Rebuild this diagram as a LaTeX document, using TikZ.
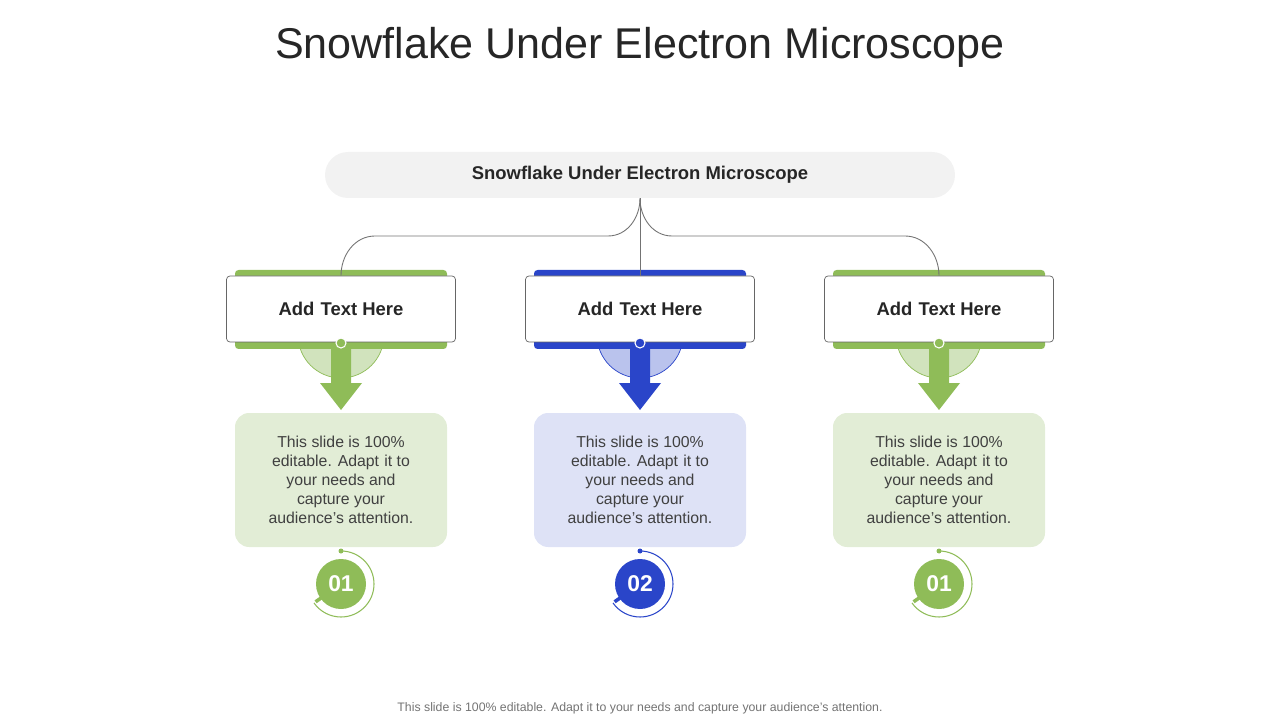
\documentclass[tikz,border=0pt]{standalone}
\usepackage{fontspec}
\setmainfont{Liberation Sans}
\usetikzlibrary{positioning,calc}
\definecolor{cgreen}{HTML}{8FBC58}
\definecolor{lgreen}{HTML}{E2EDD6}
\definecolor{cblue}{HTML}{2A45C9}
\definecolor{lblue}{HTML}{DEE2F6}
\definecolor{pill}{HTML}{F2F2F2}
\definecolor{ink}{HTML}{262626}
\newcommand{\bodytxt}{This slide is 100\%\\ editable. Adapt\,\,it to\\ your needs and\\ capture your\\ audience's attention.}
\begin{document}
\begin{tikzpicture}
[x=0.2mm,y=-0.2mm,
    title/.style={font=\fontsize{24.5}{28}\selectfont,text=ink},
    header/.style={fill=pill,rounded corners=23*0.2mm,minimum width=630*0.2mm,minimum height=46*0.2mm,font=\bfseries\fontsize{10.5}{12}\selectfont,text=ink},
    headbox/.style={draw=black!60,fill=white,rounded corners=2pt,minimum width=229*0.2mm,minimum height=66*0.2mm,font=\bfseries\fontsize{10.5}{12}\selectfont,text=ink},
    textbox/.style={rounded corners=8pt,minimum width=212*0.2mm,minimum height=134*0.2mm,align=center,font=\fontsize{9}{10.8}\selectfont,text=black!75},
    numdisc/.style={circle,minimum size=50*0.2mm,inner sep=0pt,font=\bfseries\fontsize{13}{15}\selectfont,text=white},
    link/.style={black!55,line width=.5pt}]
\useasboundingbox (0,0) rectangle (1280,720);
%%%%%%%%%%
%% title
\node[title] (ttl) at (640,47) {Snowflake Under Electron Microscope};
\node[header] (top) at (640,175) {Snowflake Under Electron Microscope};
%%
\foreach \x/\c/\l/\n/\nm in {341/cgreen/lgreen/01/a,640/cblue/lblue/02/b,939/cgreen/lgreen/01/c}{
  \fill[\c,rounded corners=2pt] (\x-106,270) rectangle (\x+106,349);
  \draw[\c,fill=\l!80!\c] (\x-43,335) arc[start angle=180,end angle=0,radius=43] -- cycle;
  \fill[\c] (\x-43,335) rectangle (\x+43,349);
  \fill[\c] (\x-10,342) -- (\x+10,342) -- (\x+10,383) -- (\x+21,383) -- (\x,410)
    -- (\x-21,383) -- (\x-10,383) -- cycle;
  \node[headbox] (h\nm) at (\x,309) {Add\,\,Text Here};
  \draw[white,fill=\c,line width=.6pt] (\x,343) circle[radius=5];
  \node[textbox,fill=\l] (t\nm) at (\x,480) {\bodytxt};
  \node[numdisc,fill=\c] (n\nm) at (\x,584) {\n};
  \draw[\c,line width=.6pt] (n\nm.center) ++(270:33) arc[start angle=270,end angle=505,radius=33];
  \fill[\c] (n\nm.center) ++(270:33) circle[radius=2.5];
  \draw[\c,line width=2pt] (n\nm.center) ++(145:22) -- ++(145:9);
}
%%
\draw[link] (top.south) to[out=-90,in=0] (608,236) -- (375,236) to[out=180,in=90] (ha.north);
\draw[link] (top.south) to[out=-90,in=180] (672,236) -- (905,236) to[out=0,in=90] (hc.north);
\draw[link] (top.south) -- (hb.north);
\node[font=\fontsize{7}{9}\selectfont,text=black!55] (foot) at (640,708) {This slide is 100\% editable. Adapt it to your needs and capture your audience's attention.};
\end{tikzpicture}
\end{document}
